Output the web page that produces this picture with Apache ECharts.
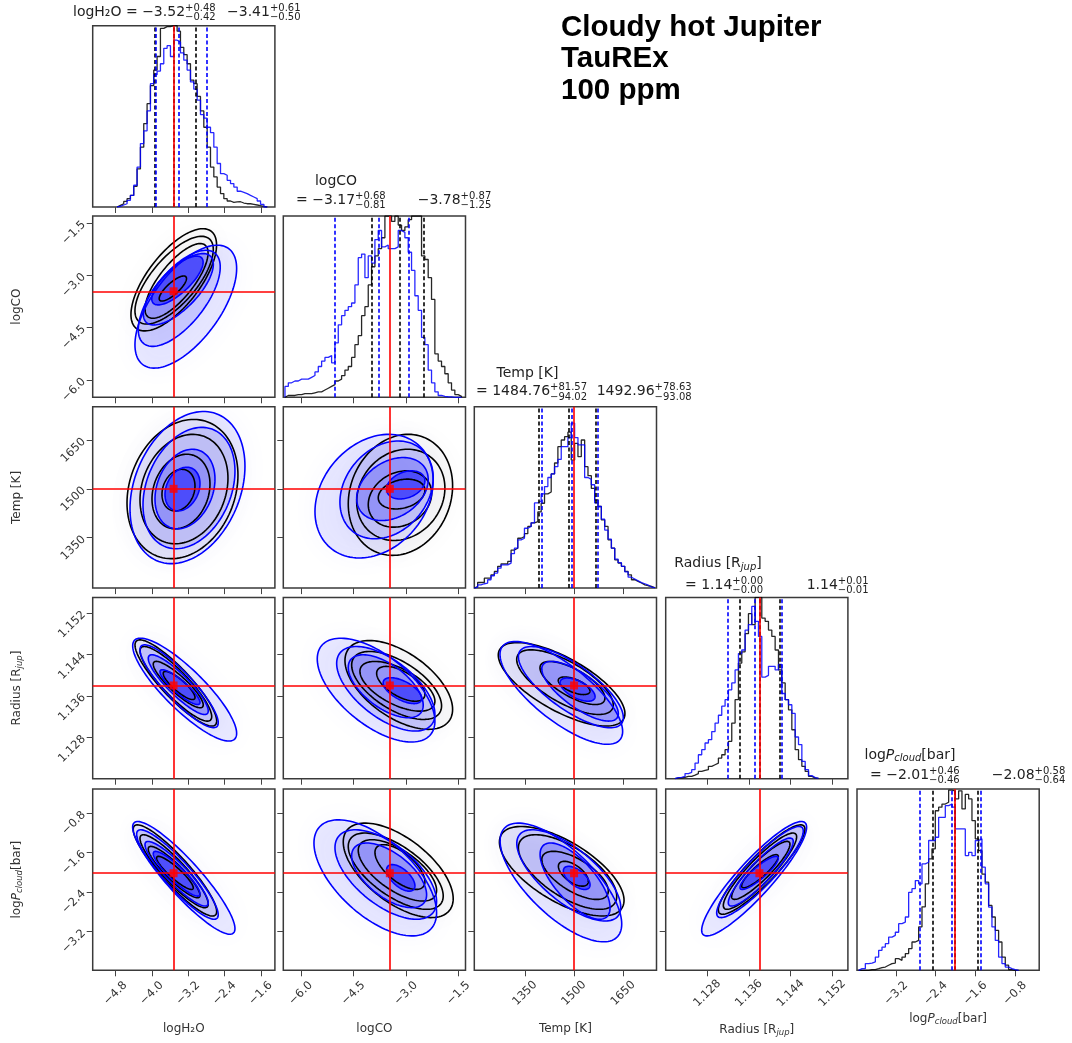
<!DOCTYPE html>
<html>
<head>
<meta charset="utf-8">
<script src="https://cdn.jsdelivr.net/npm/echarts@6.0.0/dist/echarts.min.js"></script>
<style>
  html, body { margin: 0; padding: 0; background: #fff; }
  #chart { width: 1072px; height: 1043px; }
</style>
</head>
<body>
<div id="chart"></div>
<script>
// parameter order: logH2O, logCO, Temp, Radius, logPcloud
const axisMin = [-5.3, -6.5, 1195, 1.120, -3.99];
const axisMax = [-1.29, -1.3, 1752, 1.155, -0.31];
const tickH2O = [-4.8, -4.0, -3.2, -2.4, -1.6];
const tickCO = [-6.0, -4.5, -3.0, -1.5];
const tickTemp = [1350, 1500, 1650];
const tickRad = [1.128, 1.136, 1.144, 1.152];
const tickP = [-3.2, -2.4, -1.6, -0.8];
const ticks = [tickH2O, tickCO, tickTemp, tickRad, tickP];
const tickDec = [1, 1, 0, 3, 1];

const truths = [-3.52, -3.46, 1500, 1.138, -2.02];

// title numbers (black run, blue run)
const medK = [-3.52, -3.17, 1484.76, 1.14, -2.01];
const upK = [0.48, 0.68, 81.57, 0.00, 0.46];
const loK = [0.42, 0.81, 94.02, 0.00, 0.46];
const medB = [-3.41, -3.78, 1492.96, 1.14, -2.08];
const upB = [0.61, 0.87, 78.63, 0.01, 0.58];
const loB = [0.50, 1.25, 93.08, 0.01, 0.64];

// dashed quantile lines on the diagonal
const qLinesK = [[-3.94, -3.52, -3.04], [-3.98, -3.17, -2.49], [1390.7, 1484.8, 1566.3], [1.1343, 1.1380, 1.1420], [-2.47, -2.01, -1.55]];
const qLinesB = [[-3.91, -3.41, -2.80], [-5.03, -3.78, -2.91], [1399.9, 1493.0, 1571.6], [1.1319, 1.1371, 1.1422], [-2.72, -2.08, -1.50]];

// histogram bin ranges and heights (percent of panel height)
const histRange = [[-4.764, -1.459], [-6.452, -1.414], [1195, 1747], [1.12179, 1.14936], [-3.956, -0.726]];
const histH2O_k = [0.9,1.8,3.1,4.6,6.4,11.4,21,33,46,57,67,75.5,83,98.5,99.5,99.5,100,100,97,88,84,79,70,68,61,53,44,33,22,16.6,11,7.4,4.6,3.3,2.6,2.8,2.9,2.2,1.8,1.8,1.5,1.1,0.7,0.4,0];
const histH2O_b = [0.4,1.1,1.8,3.7,6.4,12,22,35,42,53,68,73,75,79,87.5,89,83,92,91,85,81,75.5,69,65,59,51,49,44,41,33,24,18.4,17.5,14.7,12.9,11,8.7,8.1,7.4,6.4,5.5,4.6,3.3,1.5,0];
const histCO_k = [1,1,1,1.5,1.5,2,2,2,2.5,3,3,4,5,6,7,9,10,12,15,17,22,29,34,45,50,62,72,78,82,88,100,100,97,100,95,92,94,98,100,100,100,78,76,66,54,24,20,17,13,8,4,1.5,0.5];
const histCO_b = [6,8,9,9,10,10,10,11,12,14,17,20,22,23,19,30,40,45,48,50,52,62,77,79,66,78,74,87,92,83,84,82,82,83,92,91,88,80,70,56,48,33,29,15,8,3,1,0.5,0.3,0.2,0,0,0];
const histTemp_k = [0.9,3.1,3.1,5.5,5.5,7.3,9.2,12,13.4,13.4,14.7,21,22,27.5,28.4,30,34,36,36.7,42,46.8,52,53,63,69,78,81.7,83.5,86,70.6,79.8,72.5,81.7,67,62,55,48.6,45,37.6,34,26.6,22,15.6,13.8,12,9.2,7.3,4.6,3.7,2.8,1.8,1.3,0.9,0.2];
const histTemp_b = [0.5,1.8,2.4,2.8,4.6,6.8,8.3,11,12.8,12.8,13.8,19,22,26.6,27.5,33,34,36,47,48,52,56,61,63,67,71,78,78,83,91,83,79,79,61,60,57,47,45,38,32,27,22,16,14,12,9,6,5,4,3,2.4,1.7,0.6,0.2];
const histRad_k = [0.4,0.4,0.7,1.3,1.3,2,2.8,4,4.6,5,6.8,7.7,8.6,11.4,13.2,16,20.6,30.7,43.6,63.8,70,80,91,85,100,100,88.6,86.8,82,78.5,71,60,52.8,43.6,38,27,16,10.5,6.8,4,1.3,0.4,0.2];
const histRad_b = [0.6,0.7,1.3,2.8,3.5,5,8.6,13.2,16,19.7,21.5,26,30.7,35,40,43.6,49,52.8,60,69,71,82,85,95,86.8,78.5,56,57,62,62,60,63,47,43.6,40.8,36,23,18.8,9.6,5,1.7,0.6,0.2];
const histP_k = [0,0,0,0.4,0.4,0.9,1.5,1.8,2.8,3.7,4,6.4,5.5,7.3,9.2,12,15.6,16.5,23.9,35,47.7,61.5,67,88,90,91.7,92.7,99.4,99,94.5,99,89,97,94.5,82.6,72.5,66,53,48.6,35.8,29.4,22,15.6,7.3,2.8,0.4,0,0];
const histP_b = [0.9,0.9,3.7,4,4.6,7.3,11,12.8,14.7,18.3,19.3,21,25.7,26.6,29.4,43,45,49.5,47.7,58.7,59.6,71.6,71.6,73.4,84.4,84.4,90.8,91.7,90,78,78,78,63.3,65,63.3,71.6,72.5,56.9,47.7,34.9,23.9,16.5,7.3,3.7,1.8,0.9,0.4,0];
const histK = [histH2O_k, histCO_k, histTemp_k, histRad_k, histP_k];
const histB = [histH2O_b, histCO_b, histTemp_b, histRad_b, histP_b];

// contour levels: [centre x, centre y, half-width x, half-height y, correlation]
const contCO_H2O_k = [[-3.516,-3.130,0.942,1.466,0.68],[-3.508,-3.141,0.862,1.258,0.70],[-3.455,-3.162,0.694,1.071,0.75],[-3.536,-3.380,0.300,0.360,0.80]];
const contCO_H2O_b = [[-3.251,-3.900,1.119,1.763,0.62],[-3.395,-3.661,0.902,1.378,0.65],[-3.415,-3.401,0.770,1.024,0.70],[-3.435,-3.150,0.565,0.700,0.75]];
const contT_H2O_k = [[-3.324,1499.3,1.221,213.9,0.2],[-3.291,1499.3,0.968,168,0.2],[-3.357,1491.7,0.638,114.6,0.2],[-3.412,1496,0.363,64,0.2]];
const contT_H2O_b = [[-3.214,1503.9,1.265,233.7,0.28],[-3.181,1502.4,1.012,186.4,0.28],[-3.269,1499.3,0.66,122.2,0.25],[-3.324,1499.3,0.385,67.2,0.25]];
const contR_H2O_k = [[-3.47,1.13848,0.899,0.00832,-0.88],[-3.47,1.13832,0.789,0.0072,-0.88],[-3.417,1.13817,0.55,0.00448,-0.88],[-3.398,1.138,0.349,0.00272,-0.85]];
const contR_H2O_b = [[-3.276,1.1372,1.144,0.00993,-0.85],[-3.398,1.13785,0.861,0.008,-0.88],[-3.417,1.13816,0.66,0.00576,-0.88],[-3.379,1.13768,0.44,0.00336,-0.88]];
const contP_H2O_k = [[-3.49,-1.963,0.918,0.926,-0.9],[-3.508,-1.979,0.751,0.74,-0.9],[-3.508,-1.996,0.569,0.521,-0.9],[-3.49,-2.013,0.403,0.336,-0.9]];
const contP_H2O_b = [[-3.295,-2.114,1.126,1.144,-0.9],[-3.435,-2.046,0.898,0.908,-0.9],[-3.453,-2.03,0.696,0.656,-0.9],[-3.453,-2.03,0.514,0.454,-0.9]];
const contT_CO_k = [[-3.157,1481.5,1.489,186,0.15],[-3.147,1481.5,1.259,140.1,0.15],[-3.171,1468.7,0.904,86.5,0.2],[-3.124,1484,0.666,45.8,0.25]];
const contT_CO_b = [[-3.909,1477.5,1.687,189.9,0.25],[-3.553,1496.7,1.331,150.2,0.25],[-3.385,1499.3,1.021,96.8,0.3],[-3.005,1512,0.547,43.2,0.3]];
const contR_CO_k = [[-3.204,1.1381,1.536,0.00857,-0.55],[-3.266,1.138,1.283,0.00656,-0.6],[-3.243,1.13784,1.07,0.0048,-0.6],[-3.147,1.13832,0.689,0.00336,-0.6]];
const contR_CO_b = [[-3.852,1.1371,1.679,0.01002,-0.6],[-3.575,1.13736,1.402,0.00816,-0.6],[-3.577,1.13784,1.07,0.00608,-0.6],[-3.1,1.137,0.55,0.0025,-0.6]];
const contR_T_k = [[1461.9,1.13822,193.6,0.00806,-0.7],[1472.2,1.13864,147.6,0.00624,-0.7],[1495.1,1.13848,99.3,0.00416,-0.7],[1500.1,1.13794,48.4,0.0017,-0.6]];
const contR_T_b = [[1461,1.13656,187.5,0.00992,-0.75],[1490.2,1.13768,160.4,0.00784,-0.75],[1518.3,1.13688,117,0.00576,-0.75],[1510.7,1.1372,53.5,0.00224,-0.6]];
const contP_CO_k = [[-3.22,-1.961,1.569,0.959,-0.6],[-3.291,-1.978,1.355,0.774,-0.65],[-3.243,-1.962,1.118,0.623,-0.65],[-3.171,-1.894,0.713,0.454,-0.65]];
const contP_CO_b = [[-3.875,-2.114,1.75,1.178,-0.6],[-3.575,-2.046,1.45,0.908,-0.6],[-3.48,-2.062,1.07,0.656,-0.6],[-3.147,-2.114,0.404,0.27,-0.6]];
const contP_T_k = [[1462.3,-1.979,190.5,0.908,-0.65],[1480.1,-1.995,150.3,0.757,-0.65],[1503,-2.063,101.7,0.488,-0.65],[1497.9,-2.03,45.8,0.252,-0.6]];
const contP_T_b = [[1459.8,-2.207,185.9,1.205,-0.7],[1483.8,-2.063,158.9,0.926,-0.7],[1503.1,-2.18,107,0.774,-0.7],[1508.1,-2.114,40.8,0.235,-0.6]];
const contP_R_k = [[1.13843,-1.945,0.00832,0.908,0.9],[1.13811,-1.978,0.00704,0.774,0.9],[1.13827,-1.962,0.0056,0.589,0.9],[1.13811,-1.978,0.00352,0.336,0.88]];
const contP_R_b = [[1.13699,-2.131,0.01008,1.161,0.9],[1.13811,-1.995,0.00832,0.925,0.9],[1.13826,-1.996,0.00624,0.69,0.9],[1.13795,-2.013,0.00368,0.336,0.88]];

const panels2d = [
  [1, 0, contCO_H2O_k, contCO_H2O_b],
  [2, 0, contT_H2O_k, contT_H2O_b],
  [3, 0, contR_H2O_k, contR_H2O_b],
  [4, 0, contP_H2O_k, contP_H2O_b],
  [2, 1, contT_CO_k, contT_CO_b],
  [3, 1, contR_CO_k, contR_CO_b],
  [4, 1, contP_CO_k, contP_CO_b],
  [3, 2, contR_T_k, contR_T_b],
  [4, 2, contP_T_k, contP_T_b],
  [4, 3, contP_R_k, contP_R_b]
];

const FONT = 'DejaVu Sans';
const colLeft = [92.7, 283.3, 474.3, 665.7, 857];
const rowTop = [25.7, 216, 406.8, 597.4, 789];
const PW = 182.2, PH = 181.3;

const chart = echarts.init(document.getElementById('chart'), null, {renderer: 'canvas'});

function minus(s) { return s.replace(/-/g, '\u2212'); }

const grids = [], xAxes = [], yAxes = [], series = [];

function tickLabel(dim) {
  return v => minus(Number(v).toFixed(tickDec[dim]));
}

function addPanel(row, col) {
  const gi = grids.length;
  grids.push({
    left: colLeft[col], top: rowTop[row], width: PW, height: PH,
    show: true, borderColor: '#3a3a3a', borderWidth: 1.5, backgroundColor: 'rgba(0,0,0,0)',
    containLabel: false, outerBoundsMode: 'none'
  });
  xAxes.push({
    gridIndex: gi, type: 'value', min: axisMin[col], max: axisMax[col],
    axisLine: {show: false}, splitLine: {show: false},
    axisTick: {show: true, inside: false, length: 6, lineStyle: {color: '#444', width: 1}, customValues: ticks[col]},
    axisLabel: {
      show: row === 4, customValues: ticks[col], rotate: 45, align: 'center', verticalAlign: 'middle',
      margin: 23, fontFamily: FONT, fontSize: 11.5, color: '#333', formatter: tickLabel(col)
    }
  });
  if (row === col) {
    yAxes.push({gridIndex: gi, type: 'value', min: 0, max: 100, show: false});
  } else {
    yAxes.push({
      gridIndex: gi, type: 'value', min: axisMin[row], max: axisMax[row],
      axisLine: {show: false}, splitLine: {show: false},
      axisTick: {show: true, inside: false, length: 6, lineStyle: {color: '#444', width: 1}, customValues: ticks[row]},
      axisLabel: {
        show: col === 0, customValues: ticks[row], rotate: 45, margin: 9,
        fontFamily: FONT, fontSize: 11.5, color: '#333', formatter: tickLabel(row)
      }
    });
  }
  return gi;
}

function stepPoints(range, counts) {
  const w = (range[1] - range[0]) / counts.length;
  const pts = [[range[0], 0]];
  counts.forEach((c, i) => {
    pts.push([range[0] + i * w, c]);
    pts.push([range[0] + (i + 1) * w, c]);
  });
  pts.push([range[1], 0]);
  return pts;
}

function vLines(values, color, dashed) {
  return {
    silent: true, symbol: 'none', animation: false, label: {show: false}, precision: 8,
    emphasis: {disabled: true},
    lineStyle: {color: color, width: 1.6, type: dashed ? [4, 2.5] : 'solid'},
    data: values.map(v => ({xAxis: v}))
  };
}

// ellipse outline for one contour level
function ellipseSeries(gi, data, styleFn, z) {
  return {
    type: 'custom', xAxisIndex: gi, yAxisIndex: gi, coordinateSystem: 'cartesian2d',
    clip: true, silent: true, z: z, data: data, encode: {x: 0, y: 1},
    renderItem: function (params, api) {
      const cx = api.value(0), cy = api.value(1), sx = api.value(2), sy = api.value(3), r = api.value(4);
      const q = Math.sqrt(1 - r * r);
      const pts = [];
      for (let k = 0; k < 120; k++) {
        const t = k / 120 * Math.PI * 2;
        pts.push(api.coord([cx + sx * Math.cos(t), cy + sy * (r * Math.cos(t) + q * Math.sin(t))]));
      }
      return {type: 'polygon', shape: {points: pts}, style: styleFn(params.dataIndex)};
    }
  };
}

// diagonal histograms
for (let d = 0; d < 5; d++) {
  const gi = addPanel(d, d);
  series.push({
    type: 'line', xAxisIndex: gi, yAxisIndex: gi, data: stepPoints(histRange[d], histK[d]),
    showSymbol: false, symbol: 'none', silent: true, z: 3,
    lineStyle: {color: 'rgba(0,0,0,0.85)', width: 1.3},
    markLine: vLines(qLinesK[d], '#000', true)
  });
  series.push({
    type: 'line', xAxisIndex: gi, yAxisIndex: gi, data: stepPoints(histRange[d], histB[d]),
    showSymbol: false, symbol: 'none', silent: true, z: 4,
    lineStyle: {color: 'rgba(0,0,255,0.85)', width: 1.3},
    markLine: vLines(qLinesB[d], '#0000ff', true)
  });
  series.push({
    type: 'line', xAxisIndex: gi, yAxisIndex: gi, data: [[truths[d], 0]],
    showSymbol: false, symbol: 'none', silent: true, z: 5, lineStyle: {width: 0},
    markLine: vLines([truths[d]], '#ff0000', false)
  });
}

const fillAlpha = [0.06, 0.12, 0.22, 0.48];
panels2d.forEach(([row, col, ck, cb]) => {
  const gi = addPanel(row, col);
  series.push(ellipseSeries(gi, [ck[0]], () => ({
    fill: 'rgba(90,90,90,0.03)', shadowBlur: 26, shadowColor: 'rgba(60,60,60,1)'
  }), 1));
  series.push(ellipseSeries(gi, [cb[0]], () => ({
    fill: 'rgba(90,90,255,0.04)', shadowBlur: 30, shadowColor: 'rgba(70,70,255,1)'
  }), 1));
  series.push(ellipseSeries(gi, cb, i => ({fill: 'rgba(0,0,255,' + fillAlpha[i] + ')'}), 2));
  series.push(ellipseSeries(gi, ck, () => ({fill: 'none', stroke: '#000', lineWidth: 1.6}), 3));
  series.push(ellipseSeries(gi, cb, () => ({fill: 'none', stroke: '#0000ff', lineWidth: 1.6}), 4));
  series.push({
    type: 'scatter', xAxisIndex: gi, yAxisIndex: gi, data: [[truths[col], truths[row]]],
    symbol: 'rect', symbolSize: 8, itemStyle: {color: '#ff0000'}, silent: true, z: 6,
    markLine: {
      silent: true, symbol: 'none', animation: false, label: {show: false}, precision: 8,
      lineStyle: {color: '#ff0000', width: 1.6, type: 'solid'},
      data: [{xAxis: truths[col]}, {yAxis: truths[row]}]
    }
  });
});

// ---------- text ----------
const measureCtx = document.createElement('canvas').getContext('2d');
function tw(s, size) {
  measureCtx.font = size + 'px "' + FONT + '"';
  return measureCtx.measureText(s).width;
}
function fmt2(v) { return (v < 0 ? '\u2212' : '') + Math.abs(v).toFixed(2); }

const graphics = [];
function textEl(x, y, text, size) {
  return {
    type: 'text', x: x, y: y, silent: true,
    style: {text: text, fontFamily: FONT, fontSize: size, fill: '#222', align: 'left', verticalAlign: 'middle'}
  };
}
function scriptRun(x, y, main, up, lo) {
  graphics.push(textEl(x, y, main, 14));
  const x2 = x + tw(main, 14);
  graphics.push(textEl(x2, y - 4, '+' + up.toFixed(2), 10));
  graphics.push(textEl(x2, y + 5.5, '\u2212' + lo.toFixed(2), 10));
}
const richName = {
  i: {fontFamily: FONT, fontStyle: 'italic', fontSize: 14, fill: '#222'},
  s: {fontFamily: FONT, fontStyle: 'italic', fontSize: 10, lineHeight: 10, verticalAlign: 'bottom', fill: '#222'}
};
const axisNames = ['logH\u2082O', 'logCO', 'Temp [K]', 'Radius [R{s|jup}]', 'log{i|P}{s|cloud}[bar]'];

// column titles
scriptRun(73, 12, axisNames[0] + ' = ' + fmt2(medK[0]), upK[0], loK[0]);
scriptRun(227, 12, fmt2(medB[0]), upB[0], loB[0]);
const nameCenter = [null, [336, 181], [527.5, 373], [718, 563.5], [910, 755]];
const lineStart = [null, [296, 200], [476, 391.5], [685, 585], [870, 775]];
const blueStart = [null, 417.7, 596.7, 806.7, 991.7];
for (let d = 1; d < 5; d++) {
  graphics.push({
    type: 'text', x: nameCenter[d][0], y: nameCenter[d][1], silent: true,
    style: {text: axisNames[d], fontFamily: FONT, fontSize: 14, lineHeight: 17, fill: '#222', align: 'center', verticalAlign: 'middle', rich: richName}
  });
  scriptRun(lineStart[d][0], lineStart[d][1], '= ' + fmt2(medK[d]), upK[d], loK[d]);
  scriptRun(blueStart[d], lineStart[d][1], fmt2(medB[d]), upB[d], loB[d]);
}

// axis names
const richSmall = {
  i: {fontFamily: FONT, fontStyle: 'italic', fontSize: 12, fill: '#333'},
  s: {fontFamily: FONT, fontStyle: 'italic', fontSize: 8.5, lineHeight: 8, verticalAlign: 'bottom', fill: '#333'}
};
const xNameY = [1029, 1029, 1029, 1030, 1019];
for (let d = 0; d < 5; d++) {
  graphics.push({
    type: 'text', x: colLeft[d] + PW / 2, y: xNameY[d], silent: true,
    style: {text: axisNames[d], fontFamily: FONT, fontSize: 12, lineHeight: 15, fill: '#333', align: 'center', verticalAlign: 'middle', rich: richSmall}
  });
}
for (let d = 1; d < 5; d++) {
  graphics.push({
    type: 'text', x: 17, y: rowTop[d] + PH / 2, rotation: Math.PI / 2, silent: true,
    style: {text: axisNames[d], fontFamily: FONT, fontSize: 12, lineHeight: 15, fill: '#333', align: 'center', verticalAlign: 'middle', rich: richSmall}
  });
}

graphics.push({
  type: 'text', x: 561, y: 12, silent: true,
  style: {
    text: 'Cloudy hot Jupiter\nTauREx\n100 ppm', fontFamily: 'Liberation Sans', fontWeight: 'bold',
    fontSize: 29.5, lineHeight: 31.5, fill: '#000', align: 'left', verticalAlign: 'top'
  }
});

chart.setOption({
  animation: false,
  backgroundColor: '#fff',
  grid: grids,
  xAxis: xAxes,
  yAxis: yAxes,
  series: series,
  graphic: {elements: graphics}
});
</script>
</body>
</html>
